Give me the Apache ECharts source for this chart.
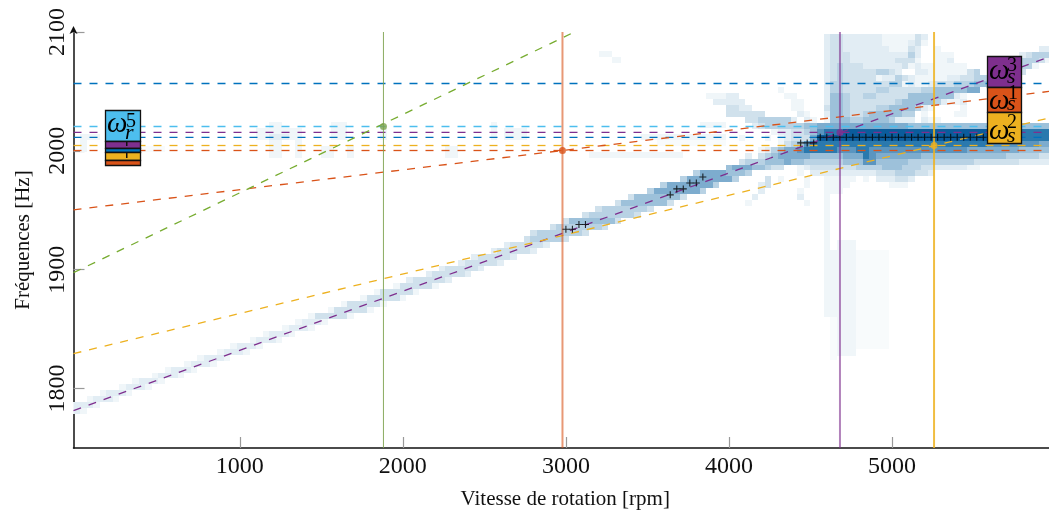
<!DOCTYPE html>
<html><head><meta charset="utf-8">
<style>html,body{margin:0;padding:0;background:#fff}#c{width:1049px;height:510px}</style>
<script src="https://cdn.jsdelivr.net/npm/echarts@6/dist/echarts.min.js"></script></head>
<body><div id="c"></div>
<script>
const xTicks=[1000,2000,3000,4000,5000];
const yTicks=[1800,1900,2000,2100];
const xRange=[-20,5963], yRange=[1750,2100];
const heatColors={0.5:'#f8fbfc',1:'#f0f6f9',2:'#e2edf4',3:'#d0e1ec',4:'#b8d2e4',5:'#9dc1da',6:'#7dacce',7:'#5a95c0',8:'#2a79ae',9:'#0b5c9c'};

// dense zone: first column centred at 4000 rpm, 40 rpm wide; first row centred at 2096 Hz, 5 Hz tall
const denseRows=[
"..... ..... ..... 23322 22221 11113 2.... ..... ..... .....",
"..... ..... ..... 23322 22221 11123 1.... ..... ..... .....",
"..... ..... ..... 23322 22222 11132 ..1.. ..... ..... ...22",
"..... ..... ..... 23332 22222 22242 ..111 ..... ..... 23444",
"..... ..... ..... 23332 22222 23331 ..112 ..... ..... 44431",
"..... ..... ..... 23433 32222 22312 11111 11... ..... 441..",
"..... ..... ..... 23433 33344 32..2 21111 1134. ..... 3....",
"..... ..... ..... 23433 33312 24321 11112 23344 ..... .....",
"..... ..... ..... 24433 33333 44121 12333 44455 ..... .....",
"..... ...1. ..... 24433 33344 33333 44555 5566. ..... .....",
"22... ....1 1.... 25543 34433 33355 55555 21... ..... .....",
"222.. ..... 11... 25543 33333 34555 55421 12... ..... .....",
"3322. ..... 11... 35543 33344 55554 21... .1... ..... .....",
"33333 3.... .21.. 25543 34555 5544. 1.... 11... ..... .....",
"...33 44444 2.21. 15554 45555 4222. 211.. ..... ..... .....",
"....2 34444 44556 66666 66666 66655 55555 55555 55555 55555",
"..... ..122 33457 88899 99999 99999 99999 99999 99999 88888",
"..1.. .1.12 33369 99999 99999 99999 99999 99999 99999 88888",
"..... ...13 45788 88888 88888 88888 88888 88888 77777 77766",
"..... 12456 67888 88777 88777 77777 77777 77666 66666 55555",
"...2. 34566 66655 55566 68766 66666 55555 55555 55544 44433",
"..344 45556 55444 44455 57755 55544 44444 44433 33333 22222",
"56665 5433. .1233 33333 44445 55444 33222 2211. ..... .....",
"555.. ..... .1.22 22222 22233 34443 32... ..... ..... .....",
"..... .3.1. ..1.. 11111 .1.22 2332. ..... ..... ..... .....",
"..... 23... ..1.. 1111. ..... 111.. ..... ..... ..... .....",
"..... 2.... .1... 111.. ..... ..... ..... ..... ..... .....",
"....2 ..... .2... 1.... ..... ..... ..... ..... ..... .....",
"...1. ..... ..1.. 1.... ..... ..... ..... ..... ..... ....."
];

// main ridge below the dense zone
const ridgeFreq=[1781,1786,1791,1796,1801,1806,1811,1816,1821,1826,1831,1836,1841,1846,1851,1856,1861,1866,1871,1876,1881,1886,1891,1896,1901,1906,1911,1916,1921,1926,1931,1936,1941,1946,1951,1956,1961,1966,1971,1976,1981];
const ridgeFrom=[-20,-20,100,180,300,380,500,580,700,780,900,980,1100,1180,1300,1380,1460,1580,1660,1780,1860,1980,2060,2180,2260,2380,2460,2580,2660,2780,2820,2940,3020,3140,3220,3340,3420,3540,3620,3740,3820];
const ridgeTo=[20,100,220,300,420,500,620,700,820,900,1020,1100,1220,1300,1420,1500,1660,1780,1860,1980,2060,2180,2260,2380,2460,2580,2660,2780,2860,2980,3100,3220,3300,3420,3500,3620,3700,3820,3900,4020,4100];
const ridgeCore=[2,2,2,2,2,2,2,2,2,2,2,2,2,2,2,2,3,3,3,3,3,3,3,3,3,3,3,3,3,4,4,4,5,4,4,5,5,6,6,6,6];
const ridgeHalo=[1,1,1,1,1,1,1,1,1,1,1,1,1,1,1,1,1,1,1,1,1,1,2,2,2,2,2,2,2,3,3,3,3,3,3,3,3,4,4,4,4];

// pale patches: [rpm from, rpm to, Hz low, Hz high, level]
const palePatches=[
[20,60,1999,2014,1],[60,140,2009,2014,1],[300,540,1999,2004,0.5],
[1180,1260,1994,2024,1],[1100,1380,2009,2019,1],[1180,1300,2009,2014,2],[1340,1380,1994,2014,1],
[1500,1580,1994,2004,1],[1560,1660,2009,2024,1],[1660,1700,1994,2004,1],[1860,1900,2009,2019,1],
[2260,2340,1994,2004,1],[2540,2580,2009,2024,1],[2620,2760,2009,2019,1],[3140,3220,1994,1999,1],
[3140,3720,1994,1999,1],[3460,3980,2009,2014,1],[3560,3980,2004,2009,0.5],[3820,3980,2019,2024,1],
[3200,3280,2079,2084,1],[3280,3340,2074,2079,1],[3860,3980,2044,2049,1],[3900,3980,2039,2044,2],
[4580,4620,1917,1957,1],[4580,4660,1860,1917,1],[4620,4660,1824,1860,0.5],
[4660,4780,1827,1925,1],[4780,4980,1833,1917,0.5],[4860,4940,1860,1900,0.5]
];

const hLineFreq=[2056.67,2020.5,2015.5,2011.3,2004.5,2000.3];
const hLineColor=['#0072bd','#4dbeee','#7e2f8e','#0072bd','#edb120','#d95319'];
const slantNames=['purple','orange','yellow','green'];
const slantColor=['#7e2f8e','#d95319','#edb120','#77ac30'];
const slantStart=[[-20,1781.5],[-20,1950.4],[-20,1829.4],[-20,1897.5]];
const slantEnd=[[5963,2079],[5963,2050],[5963,2027.7],[3030,2098.5]];
const vLineRpm=[1881,2979,4681,5258];
const vLineColor=['#7da24f','#d95319','#7e2f8e','#edb120'];
const vLineWidth=[1,2,2,2];
const vLineOpacity=[0.9,0.6,0.6,0.85];
const dotFreq=[2020.5,2000.3,2015.5,2004.5];

const plusRpm=[3000,3040,3080,3120,3640,3680,3720,3760,3800,3840,4440,4480,4520,
4560,4600,4640,4680,4720,4760,4800,4840,4880,4920,4960,5000,5040,5080,5120,5160,5200,5240,5280,5320,5360,5400,5440,5480,5520,5560];
const plusFreq=[1934,1934,1938,1938,1963,1968,1968,1973,1973,1978,2006.7,2006.7,2006.7,
2011.5,2011.5,2011.5,2011.5,2011.5,2011.5,2011.5,2011.5,2011.5,2011.5,2011.5,2011.5,2011.5,2011.5,2011.5,2011.5,2011.5,2011.5,2011.5,2011.5,2011.5,2011.5,2011.5,2011.5,2011.5,2011.5];

const serif='"Liberation Serif","Times New Roman",serif';

const cells=[];
ridgeFreq.forEach((f,i)=>cells.push([ridgeFrom[i]-40,ridgeTo[i]+40,f-2.5,f+2.5,ridgeHalo[i]]));
ridgeFreq.forEach((f,i)=>cells.push([ridgeFrom[i],ridgeTo[i],f-2.5,f+2.5,ridgeCore[i]]));
palePatches.forEach(p=>cells.push(p));
denseRows.forEach((row,r)=>{
  const s=row.replace(/ /g,''), f=2096-5*r;
  for(let i=0;i<s.length;i++){
    if(s[i]!=='.') cells.push([3980+40*i,4020+40*i,f-2.5,f+2.5,+s[i]]);
  }
});

const series=[{
  type:'custom',coordinateSystem:'cartesian2d',clip:true,silent:true,z:1,
  data:cells,encode:{x:[0,1],y:[2,3]},
  renderItem(params,api){
    const a=api.coord([api.value(0),api.value(3)]), b=api.coord([api.value(1),api.value(2)]);
    const x=Math.round(a[0]),y=Math.round(a[1]);
    return {type:'rect',shape:{x,y,width:Math.round(b[0])-x,height:Math.round(b[1])-y},
      style:{fill:heatColors[api.value(4)]}};
  }
}];
const lineBase={type:'line',showSymbol:false,silent:true,clip:true,animation:false};
hLineFreq.forEach((f,i)=>series.push({...lineBase,z:3,data:[[xRange[0],f],[xRange[1],f]],
  lineStyle:{color:hLineColor[i],width:1.3,type:[8,8]}}));
slantNames.forEach((n,i)=>series.push({...lineBase,name:n,z:4,data:[slantStart[i],slantEnd[i]],
  lineStyle:{color:slantColor[i],width:1.3,type:[8,8]}}));
vLineRpm.forEach((v,i)=>series.push({...lineBase,z:5,data:[[v,yRange[0]],[v,yRange[1]]],
  lineStyle:{color:vLineColor[i],width:vLineWidth[i],opacity:vLineOpacity[i]}}));
series.push({type:'scatter',z:6,silent:true,symbol:'path://M-1.6,-10H1.6V-1.6H10V1.6H1.6V10H-1.6V1.6H-10V-1.6H-1.6Z',symbolSize:7,
  itemStyle:{color:'#000'},data:plusRpm.map((x,i)=>[x,plusFreq[i]])});
vLineRpm.forEach((v,i)=>series.push({type:'scatter',z:7,silent:true,symbolSize:7,itemStyle:{color:vLineColor[i]},data:[[v,dotFreq[i]]]}));

const boxes=[
 [105.5,110.5,35,31,'#4dbeee'],[105.5,141.5,35,7,'#7e2f8e'],[105.5,148.5,35,4,'#0072bd'],[105.5,152.5,35,8,'#edb120'],[105.5,160.5,35,5,'#d95319'],
 [987.5,56.5,34,31,'#7e2f8e'],[987.5,87.5,34,25,'#d95319'],[987.5,112.5,34,31,'#edb120']
];
const labels=[
 ['\u03c9',107,139,'italic 29px'],['5',126,132,'20px'],['r',125,144,'italic 22px'],
 ['\u03c9',989,86,'italic 29px'],['3',1007,76,'20px'],['s',1007,88,'italic 22px'],
 ['\u03c9',989,116,'italic 29px'],['1',1008,104,'20px'],['s',1007,115,'italic 22px'],
 ['\u03c9',989,146,'italic 29px'],['2',1007,133,'20px'],['s',1007,147,'italic 22px']
];
const ticksBits=[[126,142,1.5,4],[126,153,1.5,5]];
const graphic=[];
boxes.forEach(b=>graphic.push({type:'rect',z:100,silent:true,shape:{x:b[0],y:b[1],width:b[2],height:b[3]},style:{fill:b[4],stroke:'#111',lineWidth:1.3}}));
labels.forEach(t=>graphic.push({type:'text',z:101,silent:true,style:{text:t[0],x:t[1],y:t[2],fill:'#000',verticalAlign:'bottom',font:t[3]+' '+serif}}));
ticksBits.forEach(b=>graphic.push({type:'rect',z:101,silent:true,shape:{x:b[0],y:b[1],width:b[2],height:b[3]},style:{fill:'#111'}}));

const chart=echarts.init(document.getElementById('c'),null,{renderer:'canvas'});
const labelStyle={color:'#111',fontFamily:serif,fontSize:24};
chart.setOption({
  animation:false,
  grid:{left:73.5,right:0,top:32,bottom:62,containLabel:false,outerBoundsMode:'none'},
  xAxis:{type:'value',min:xRange[0],max:xRange[1],splitLine:{show:false},
    name:'Vitesse de rotation [rpm]',nameLocation:'middle',nameGap:41,nameTextStyle:{color:'#111',fontFamily:serif,fontSize:21,padding:[0,0,0,8]},
    axisLine:{show:true,onZero:false,lineStyle:{color:'#111',width:1.5}},
    axisTick:{show:true,inside:true,length:11,customValues:xTicks,lineStyle:{color:'#999',width:1.2}},
    axisLabel:{...labelStyle,margin:7,customValues:xTicks,formatter:v=>String(v)}},
  yAxis:{type:'value',min:yRange[0],max:yRange[1],splitLine:{show:false},
    name:'Fréquences [Hz]',nameLocation:'middle',nameGap:40,nameTextStyle:{color:'#111',fontFamily:serif,fontSize:21},
    axisLine:{show:true,onZero:false,symbol:['none','arrow'],symbolSize:[6,8],symbolOffset:[0,6],lineStyle:{color:'#111',width:1.5}},
    axisTick:{show:true,inside:true,length:11,customValues:yTicks,lineStyle:{color:'#999',width:1.2}},
    axisLabel:{...labelStyle,rotate:90,margin:4,customValues:yTicks,formatter:v=>String(v)}},
  series,graphic
});
</script></body></html>
